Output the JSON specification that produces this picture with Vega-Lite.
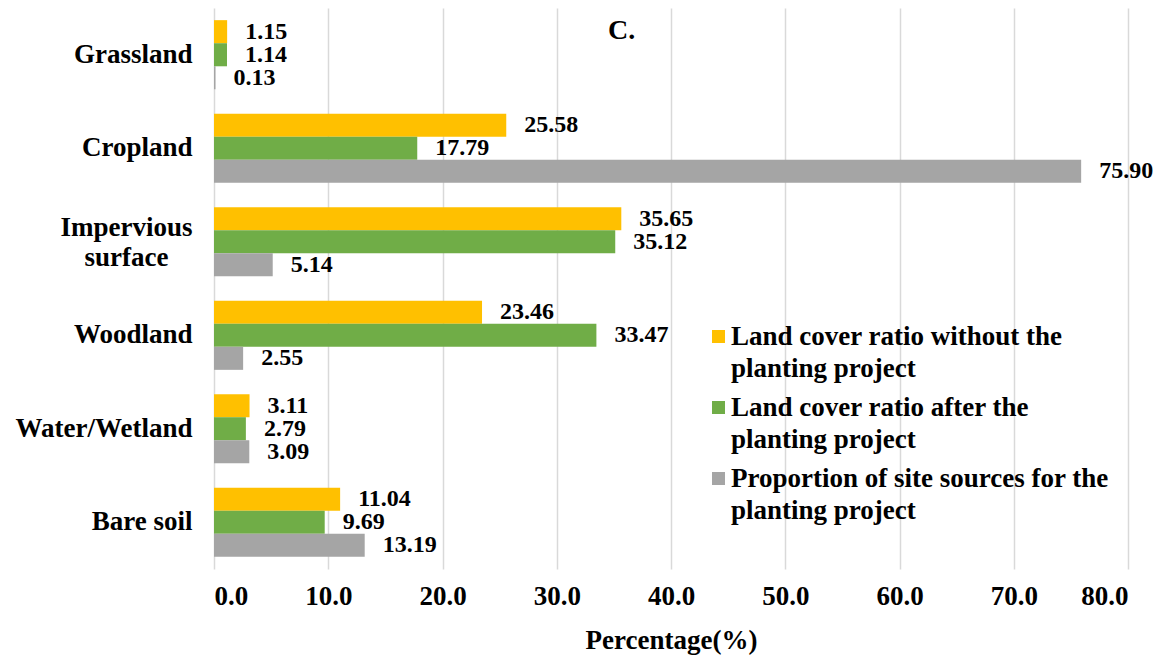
{
  "$schema": "https://vega.github.io/schema/vega-lite/v6.json",
  "width": 914,
  "height": 561,
  "autosize": "none",
  "padding": {"left": 214, "top": 8, "right": 27, "bottom": 86},
  "background": "white",
  "title": {
    "text": "C.",
    "anchor": "start",
    "frame": "group",
    "orient": "top",
    "dx": 394,
    "dy": 29,
    "offset": -8,
    "baseline": "top",
    "font": "Liberation Serif",
    "fontSize": 28,
    "fontWeight": "bold",
    "color": "#000000"
  },
  "data": {
    "values": [
      {"category": "Grassland", "series": "Land cover ratio without the planting project", "value": 1.15},
      {"category": "Grassland", "series": "Land cover ratio after the planting project", "value": 1.14},
      {"category": "Grassland", "series": "Proportion of site sources for the planting project", "value": 0.13},
      {"category": "Cropland", "series": "Land cover ratio without the planting project", "value": 25.58},
      {"category": "Cropland", "series": "Land cover ratio after the planting project", "value": 17.79},
      {"category": "Cropland", "series": "Proportion of site sources for the planting project", "value": 75.90},
      {"category": "Impervious surface", "series": "Land cover ratio without the planting project", "value": 35.65},
      {"category": "Impervious surface", "series": "Land cover ratio after the planting project", "value": 35.12},
      {"category": "Impervious surface", "series": "Proportion of site sources for the planting project", "value": 5.14},
      {"category": "Woodland", "series": "Land cover ratio without the planting project", "value": 23.46},
      {"category": "Woodland", "series": "Land cover ratio after the planting project", "value": 33.47},
      {"category": "Woodland", "series": "Proportion of site sources for the planting project", "value": 2.55},
      {"category": "Water/Wetland", "series": "Land cover ratio without the planting project", "value": 3.11},
      {"category": "Water/Wetland", "series": "Land cover ratio after the planting project", "value": 2.79},
      {"category": "Water/Wetland", "series": "Proportion of site sources for the planting project", "value": 3.09},
      {"category": "Bare soil", "series": "Land cover ratio without the planting project", "value": 11.04},
      {"category": "Bare soil", "series": "Land cover ratio after the planting project", "value": 9.69},
      {"category": "Bare soil", "series": "Proportion of site sources for the planting project", "value": 13.19}
    ]
  },
  "encoding": {
    "y": {
      "field": "category",
      "type": "nominal",
      "sort": ["Grassland", "Cropland", "Impervious surface", "Woodland", "Water/Wetland", "Bare soil"],
      "scale": {"paddingInner": 0.26, "paddingOuter": 0.13},
      "axis": {
        "title": null,
        "domain": false,
        "ticks": false,
        "labelPadding": {"condition": {"test": "datum.value == 'Impervious surface'", "value": 88}, "value": 22},
        "labelAlign": {"condition": {"test": "datum.value == 'Impervious surface'", "value": "center"}, "value": "right"},
        "labelOffset": {"condition": {"test": "datum.value == 'Impervious surface'", "value": -14}, "value": 0},
        "labelFont": "Liberation Serif",
        "labelFontSize": 27,
        "labelFontWeight": "bold",
        "labelColor": "#000000",
        "labelLineHeight": 30,
        "labelLimit": 300,
        "labelExpr": "datum.value == 'Impervious surface' ? ['Impervious', 'surface'] : datum.value"
      }
    },
    "yOffset": {
      "field": "series",
      "type": "nominal",
      "sort": ["Land cover ratio without the planting project", "Land cover ratio after the planting project", "Proportion of site sources for the planting project"],
      "scale": {"paddingInner": 0, "paddingOuter": 0}
    },
    "x": {
      "field": "value",
      "type": "quantitative",
      "scale": {"domain": [0, 80], "nice": false},
      "axis": {
        "title": "Percentage(%)",
        "values": [0, 10, 20, 30, 40, 50, 60, 70, 80],
        "format": ".1f",
        "domain": false,
        "ticks": false,
        "grid": true,
        "gridColor": "#D9D9D9",
        "gridWidth": 1.5,
        "labelPadding": 14,
        "labelFont": "Liberation Serif",
        "labelFontSize": 27,
        "labelFontWeight": "bold",
        "labelColor": "#000000",
        "titleFont": "Liberation Serif",
        "titleFontSize": 27,
        "titleFontWeight": "bold",
        "titleColor": "#000000",
        "titlePadding": 18
      }
    }
  },
  "layer": [
    {
      "mark": {"type": "bar"},
      "encoding": {
        "color": {
          "field": "series",
          "type": "nominal",
          "scale": {
            "domain": ["Land cover ratio without the planting project", "Land cover ratio after the planting project", "Proportion of site sources for the planting project"],
            "range": ["#FFC000", "#70AD47", "#A5A5A5"]
          },
          "legend": {
            "title": null,
            "orient": "none",
            "legendX": 491,
            "legendY": 315,
            "padding": 0,
            "symbolType": "square",
            "symbolSize": 169,
            "symbolStrokeWidth": 0,
            "labelFont": "Liberation Serif",
            "labelFontSize": 27,
            "labelFontWeight": "bold",
            "labelColor": "#000000",
            "labelLimit": 500,
            "labelOffset": -1,
            "rowPadding": 11,
            "labelExpr": "datum.value == 'Land cover ratio without the planting project' ? ['Land cover ratio without the', 'planting project'] : datum.value == 'Land cover ratio after the planting project' ? ['Land cover ratio after the', 'planting project'] : ['Proportion of site sources for the', 'planting project']",
            "encode": {
              "labels": {"update": {"lineHeight": {"value": 32}, "baseline": {"value": "middle"}}}
            }
          }
        }
      }
    },
    {
      "mark": {
        "type": "text",
        "align": "left",
        "baseline": "middle",
        "dx": 18,
        "font": "Liberation Serif",
        "fontSize": 24,
        "fontWeight": "bold",
        "color": "#000000"
      },
      "encoding": {
        "text": {"field": "value", "type": "quantitative", "format": ".2f"}
      }
    }
  ],
  "config": {
    "view": {"stroke": null}
  }
}
